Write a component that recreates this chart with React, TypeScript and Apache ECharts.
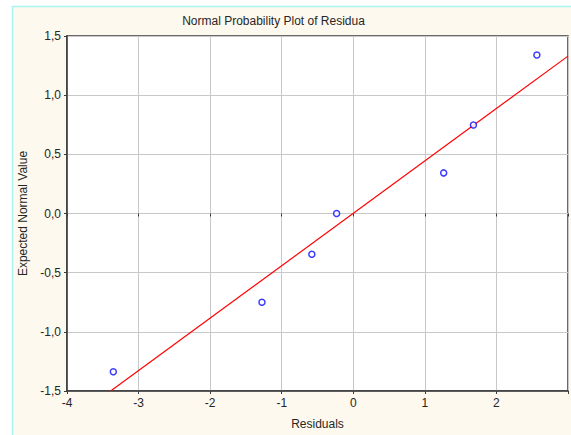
import React, { useEffect, useRef } from "react";
import * as echarts from "echarts";

const residuals = [-3.353, -1.276, -0.579, -0.233, 1.263, 1.679, 2.565];
const expectedNormal = [-1.337, -0.75, -0.344, 0.0, 0.343, 0.748, 1.339];
const fitX = [-3.39, 3.0];
const fitY = [-1.5, 1.33];
const xTicks = [-4, -3, -2, -1, 0, 1, 2];
const yTicks = [-1.5, -1.0, -0.5, 0.0, 0.5, 1.0, 1.5];

const FONT = "'Liberation Sans', Arial, sans-serif";

export default function App() {
  const ref = useRef<HTMLDivElement>(null);
  useEffect(() => {
    if (!ref.current) return;
    const chart = echarts.init(ref.current, null, { renderer: "svg" });
    const labelStyle = { color: "#262626", fontSize: 12, fontFamily: FONT };
    chart.setOption({
      animation: false,
      backgroundColor: "#ffffff",
      graphic: [
        {
          type: "rect",
          shape: { x: 12.5, y: 6.5, width: 600, height: 450 },
          style: { fill: "#FEF9EE", stroke: "#A8F4F0", lineWidth: 1.5 },
          z: -10,
        },
        {
          type: "text",
          x: 273.5,
          y: 15,
          style: {
            text: "Normal Probability Plot of Residua",
            fill: "#262626",
            font: "12px " + FONT,
            textAlign: "center",
          },
          z: 10,
        },
      ],
      grid: {
        left: 67,
        top: 36,
        right: -3,
        bottom: 44,
        show: true,
        backgroundColor: "#ffffff",
        borderColor: "#3a3a3a",
        borderWidth: 1.5,
      },
      xAxis: [
        {
          type: "value",
          min: -4,
          max: 3,
          interval: 1,
          name: "Residuals",
          nameLocation: "middle",
          nameGap: 27,
          nameTextStyle: labelStyle,
          axisLine: { show: true, onZero: false, lineStyle: { color: "#3a3a3a", width: 1.5 } },
          axisTick: { show: true, length: 3, lineStyle: { color: "#3a3a3a" } },
          axisLabel: {
            ...labelStyle,
            margin: 6,
            formatter: (v: number) => (xTicks.includes(v) ? String(v) : ""),
          },
          splitLine: { show: true, lineStyle: { color: "#c8c8c8", width: 1 } },
        },
        {
          type: "value",
          position: "top",
          min: -4,
          max: 3,
          interval: 1,
          axisLine: { show: false },
          axisTick: { show: true, inside: true, length: 3, lineStyle: { color: "#3a3a3a" } },
          axisLabel: { show: false },
          splitLine: { show: false },
        },
      ],
      yAxis: {
        type: "value",
        min: -1.5,
        max: 1.5,
        interval: 0.5,
        name: "Expected Normal Value",
        nameLocation: "middle",
        nameGap: 37,
        nameTextStyle: labelStyle,
        axisLine: { show: true, onZero: false, lineStyle: { color: "#3a3a3a", width: 1.5 } },
        axisTick: { show: true, length: 3, lineStyle: { color: "#3a3a3a" } },
        axisLabel: {
          ...labelStyle,
          margin: 6,
          formatter: (v: number) =>
            yTicks.some((t) => Math.abs(t - v) < 1e-9) ? v.toFixed(1).replace(".", ",") : "",
        },
        splitLine: { show: true, lineStyle: { color: "#c8c8c8", width: 1 } },
      },
      series: [
        {
          type: "line",
          data: fitX.map((x, i) => [x, fitY[i]]),
          showSymbol: false,
          symbol: "none",
          lineStyle: { color: "#ff0000", width: 1.2 },
          clip: true,
          z: 2,
        },
        {
          type: "scatter",
          data: residuals.map((x, i) => [x, expectedNormal[i]]),
          symbol: "circle",
          symbolSize: 6,
          itemStyle: { color: "#ffffff", borderColor: "#0a0aff", borderWidth: 1.5 },
          z: 3,
        },
      ],
    });
    return () => chart.dispose();
  }, []);
  return (
    <div
      ref={ref}
      style={{ position: "absolute", left: 0, top: 0, width: 571, height: 435 }}
    />
  );
}
